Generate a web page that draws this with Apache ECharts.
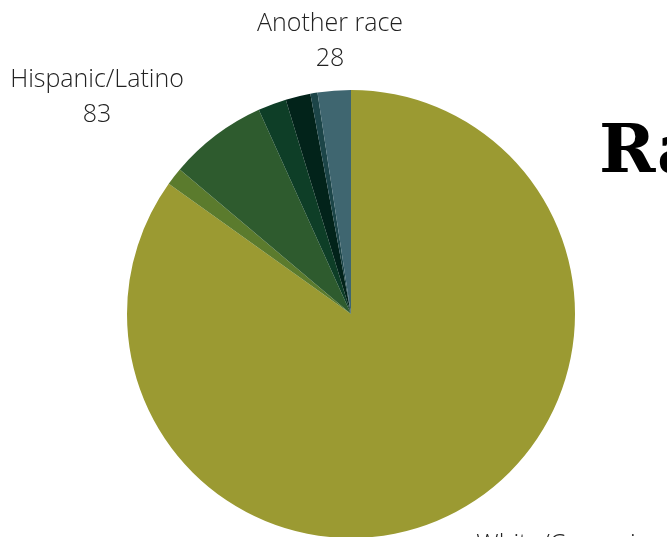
<!DOCTYPE html>
<html>
<head>
<meta charset="utf-8">
<script src="https://cdn.jsdelivr.net/npm/echarts@6/dist/echarts.min.js"></script>
<style>
html,body{margin:0;padding:0;background:#fff;}
#c{width:667px;height:537px;}
</style>
</head>
<body>
<div id="c"></div>
<script>
const categories = ["White/Caucasian", "Asian", "Hispanic/Latino", "Black/African American", "Two or more races", "American Indian/Alaska Native", "Another race"];
const values = [993, 15, 83, 24, 21, 6, 28];
const colors = ["#9b9a32", "#5b7b2d", "#2e5b2e", "#0e3e27", "#02231a", "#1c4548", "#3f6670"];
const shownLabels = ["White/Caucasian", "Hispanic/Latino", "Another race"];
const labelPos = {
  "White/Caucasian": [570, 562],
  "Hispanic/Latino": [97, 97],
  "Another race": [330, 41]
};
const titleText = "Race/Ethnicity";

const chart = echarts.init(document.getElementById('c'), null, {renderer: 'canvas'});
const data = categories.map((name, i) => ({
  name: name,
  value: values[i],
  itemStyle: {color: colors[i]},
  label: {show: shownLabels.indexOf(name) >= 0}
}));
chart.setOption({
  animation: false,
  title: {
    text: titleText,
    left: 594,
    top: 115,
    textStyle: {fontFamily: "DejaVu Serif", fontWeight: "bold", fontSize: 68, color: "#000"}
  },
  series: [{
    type: 'pie',
    center: [351, 314],
    radius: [0, 224],
    startAngle: 90,
    clockwise: true,
    data: data,
    label: {
      position: 'outside',
      formatter: '{b}\n{c}',
      fontFamily: "Open Sans",
      fontWeight: 300,
      fontSize: 25,
      lineHeight: 35,
      color: "#222",
      align: 'center',
      overflow: 'none',
      width: 300
    },
    labelLine: {show: false},
    labelLayout: function (params) {
      const p = labelPos[categories[params.dataIndex]];
      if (!p) return {};
      return {x: p[0], y: p[1], align: 'center', verticalAlign: 'middle'};
    },
    emphasis: {disabled: true}
  }]
});
</script>
</body>
</html>
